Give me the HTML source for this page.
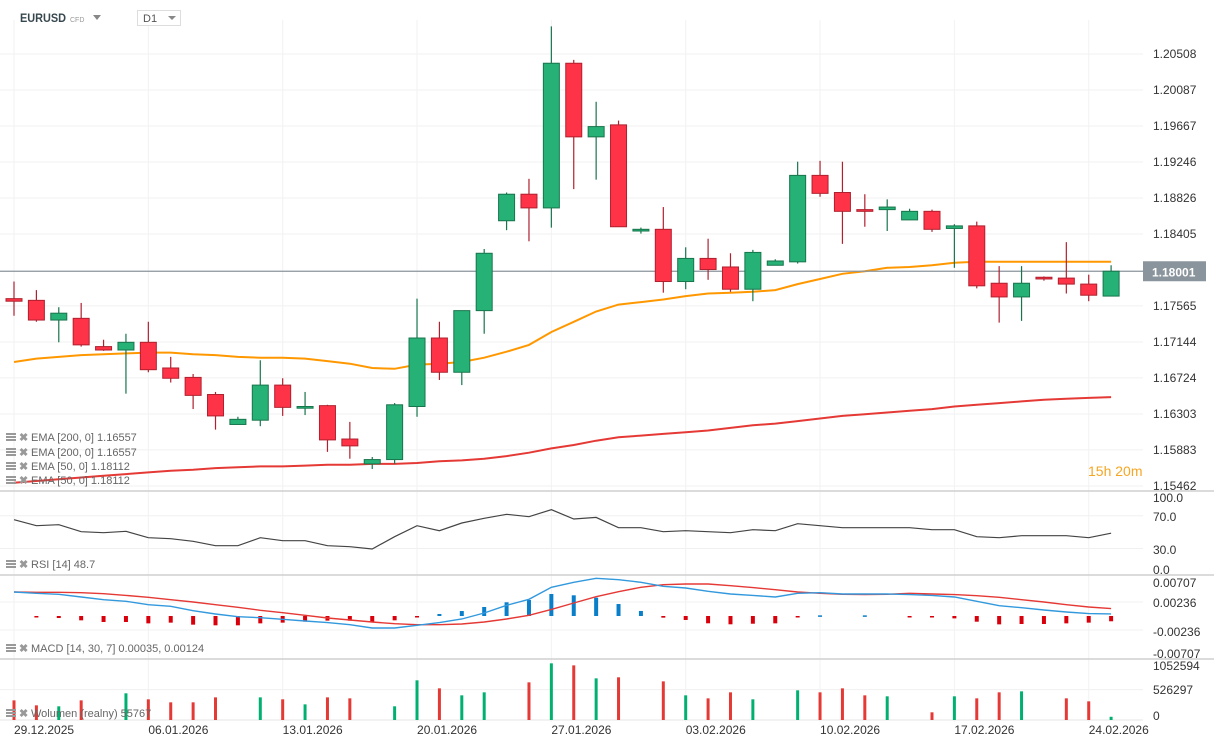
<!DOCTYPE html>
<html><head><meta charset="utf-8"><style>
body{margin:0;background:#fff;font-family:"Liberation Sans",sans-serif}
svg{display:block}
text{font-family:"Liberation Sans",sans-serif}
</style></head><body>
<svg id="c" width="1214" height="746" viewBox="0 0 1214 746"></svg>
<script>
const dates=["29.12.2025","06.01.2026","13.01.2026","20.01.2026","27.01.2026","03.02.2026","10.02.2026","17.02.2026","24.02.2026"];
const opens=[1.1765,1.1763,1.1740,1.1742,1.1709,1.1705,1.1714,1.1684,1.1673,1.1653,1.1618,1.1623,1.1664,1.1637,1.1640,1.1601,1.1572,1.1577,1.1639,1.1719,1.1679,1.1751,1.1856,1.1887,1.1871,1.2040,1.1954,1.1968,1.1844,1.1846,1.1785,1.1812,1.1802,1.1776,1.1804,1.1808,1.1909,1.1889,1.1869,1.1869,1.1857,1.1867,1.1847,1.1850,1.1783,1.1767,1.1790,1.1789,1.1782,1.1768];
const highs=[1.1785,1.1775,1.1755,1.1760,1.1717,1.1724,1.1738,1.1697,1.1677,1.1656,1.1627,1.1693,1.1672,1.1656,1.1641,1.1621,1.1580,1.1643,1.1765,1.1738,1.1751,1.1823,1.1889,1.1905,1.2083,1.2044,1.1995,1.1973,1.1848,1.1872,1.1825,1.1835,1.1818,1.1822,1.1811,1.1925,1.1926,1.1925,1.1887,1.1881,1.1870,1.1869,1.1852,1.1855,1.1803,1.1803,1.1791,1.1831,1.1793,1.1804];
const lows=[1.1745,1.1738,1.1714,1.1709,1.1704,1.1654,1.1679,1.1667,1.1636,1.1612,1.1618,1.1616,1.1628,1.1629,1.1586,1.1578,1.1566,1.1572,1.1627,1.1670,1.1664,1.1724,1.1845,1.1832,1.1848,1.1893,1.1904,1.1849,1.1841,1.1772,1.1776,1.1787,1.1773,1.1762,1.1804,1.1806,1.1884,1.1829,1.1849,1.1844,1.1857,1.1843,1.1801,1.1777,1.1737,1.1739,1.1786,1.1771,1.1762,1.1768];
const closes=[1.1762,1.1740,1.1748,1.1711,1.1705,1.1714,1.1682,1.1672,1.1652,1.1628,1.1624,1.1664,1.1638,1.1639,1.1600,1.1593,1.1577,1.1641,1.1719,1.1679,1.1751,1.1818,1.1887,1.1871,1.2040,1.1954,1.1966,1.1849,1.1846,1.1785,1.1812,1.1799,1.1776,1.1819,1.1809,1.1909,1.1888,1.1867,1.1867,1.1872,1.1867,1.1846,1.1850,1.1780,1.1767,1.1783,1.1788,1.1782,1.1769,1.1797];
const ema50=[1.1691,1.1695,1.1697,1.1699,1.1700,1.1701,1.1702,1.1702,1.1700,1.1699,1.1697,1.1696,1.1696,1.1695,1.1692,1.1689,1.1684,1.1683,1.1688,1.1689,1.1691,1.1696,1.1703,1.1711,1.1726,1.1738,1.1750,1.1758,1.1761,1.1764,1.1768,1.1771,1.1772,1.1773,1.1775,1.1782,1.1788,1.1794,1.1797,1.1801,1.1802,1.1804,1.1807,1.1808,1.1808,1.1808,1.1808,1.1808,1.1808,1.1808];
const ema200=[1.1550,1.1552,1.1554,1.1556,1.1558,1.1560,1.1562,1.1564,1.1565,1.1567,1.1568,1.1569,1.1569,1.1570,1.1571,1.1571,1.1572,1.1572,1.1573,1.1575,1.1576,1.1578,1.1581,1.1585,1.1590,1.1594,1.1599,1.1603,1.1605,1.1607,1.1609,1.1611,1.1614,1.1617,1.1619,1.1622,1.1625,1.1628,1.1630,1.1632,1.1634,1.1636,1.1639,1.1641,1.1643,1.1645,1.1647,1.1648,1.1649,1.1650];
const rsi=[65.2,57.9,59.1,50.6,49.3,51.0,43.2,42.0,38.8,33.4,33.4,43.2,39.5,39.5,33.4,32.2,29.4,44.4,57.9,51.8,61.2,66.9,71.8,68.9,77.5,66.1,68.0,55.4,55.4,50.6,51.8,50.6,49.3,53.0,51.8,60.3,57.9,55.4,55.4,55.4,55.4,53.0,53.0,44.4,43.2,45.7,45.7,45.7,43.2,48.7];
const macd=[0.00405,0.00382,0.00365,0.00320,0.00275,0.00247,0.00191,0.00163,0.00090,0.00034,-0.00011,-0.00028,-0.00056,-0.00084,-0.00112,-0.00146,-0.00202,-0.00202,-0.00157,-0.00112,-0.00051,0.00051,0.00180,0.00281,0.00483,0.00568,0.00635,0.00612,0.00568,0.00500,0.00472,0.00416,0.00371,0.00348,0.00320,0.00382,0.00393,0.00371,0.00371,0.00371,0.00360,0.00348,0.00320,0.00247,0.00174,0.00140,0.00101,0.00067,0.00040,0.00035];
const signal=[0.00405,0.00399,0.00399,0.00393,0.00376,0.00348,0.00315,0.00275,0.00236,0.00191,0.00146,0.00096,0.00056,0.00011,-0.00034,-0.00067,-0.00101,-0.00129,-0.00146,-0.00146,-0.00135,-0.00101,-0.00051,0.00011,0.00112,0.00219,0.00326,0.00410,0.00483,0.00528,0.00539,0.00539,0.00511,0.00478,0.00444,0.00405,0.00382,0.00365,0.00360,0.00365,0.00382,0.00371,0.00360,0.00343,0.00315,0.00275,0.00236,0.00191,0.00152,0.00124];
const volume=[340000,254000,237000,340000,0,462000,358000,306000,306000,392000,0,392000,358000,271000,392000,375000,0,237000,687000,548000,427000,479000,0,652000,981000,946000,721000,739000,0,669000,427000,375000,479000,358000,0,514000,479000,548000,427000,410000,0,133000,410000,375000,479000,496000,0,375000,323000,55767];
const priceTicks=[1.20508,1.20087,1.19667,1.19246,1.18826,1.18405,1.17985,1.17565,1.17144,1.16724,1.16303,1.15883,1.15462];
const rsiTicks=[100,70,30,0];
const macdTicks=[0.00707,0.00236,-0.00236,-0.00707];
const volTicks=[1052594,526297,0];

const svg=document.getElementById('c');const NS='http://www.w3.org/2000/svg';
function el(t,a,p){const e=document.createElementNS(NS,t);for(const k in a)e.setAttribute(k,a[k]);(p||svg).appendChild(e);return e;}
const X=i=>14+i*22.39;
const PY=p=>54+(1.20508-p)*8560;
const RY=v=>573-v*0.817;
const MY=v=>616-v*5932;
const VY=v=>720-v/526297*30.4;
const W=1143;
for(let k=0;k<priceTicks.length;k++){if(k===6)continue;const y=PY(priceTicks[k]);const g=el('line',{x1:0,x2:W,y1:y,y2:y,stroke:'#f0f0f0'});}
[70,30].forEach(v=>{el('line',{x1:0,x2:W,y1:RY(v),y2:RY(v),stroke:'#f0f0f0'});});
[0.00236,-0.00236].forEach(v=>{el('line',{x1:0,x2:W,y1:MY(v),y2:MY(v),stroke:'#f0f0f0'});});
el('line',{x1:0,x2:W,y1:VY(526297),y2:VY(526297),stroke:'#f0f0f0'});
el('line',{x1:0,x2:W,y1:720,y2:720,stroke:'#e6e6e6'});
for(let d=0;d<dates.length;d++){const x=X(d*6);el('line',{x1:x,x2:x,y1:20,y2:722,stroke:'#f2f2f2'});
const t=el('text',{x:x,y:734,'font-size':12,fill:'#333'});t.textContent=dates[d];
}
[491,575,659].forEach(y=>{const l=el('line',{x1:0,x2:1214,y1:y,y2:y,stroke:'#cfcfcf','stroke-width':1.5});});
priceTicks.forEach((p,k)=>{if(k===6)return;const t=el('text',{x:1153,y:PY(p)+4,'font-size':12,fill:'#333'});t.textContent=p.toFixed(5);});
rsiTicks.forEach((v,k)=>{const ys=[502,521,554,574];const t=el('text',{x:1153,y:ys[k],'font-size':12,fill:'#333'});t.textContent=v.toFixed(1);});
macdTicks.forEach((v,k)=>{const ys=[587,607,636,658];const t=el('text',{x:1153,y:ys[k],'font-size':12,fill:'#333'});t.textContent=v.toFixed(5);});
volTicks.forEach((v,k)=>{const ys=[670,694,720];const t=el('text',{x:1153,y:ys[k],'font-size':12,fill:'#333'});t.textContent=String(v);});
function line(arr,f,col,w,name){const d=arr.map((v,i)=>(i?'L':'M')+X(i).toFixed(1)+','+f(v).toFixed(1)).join('');const p=el('path',{d:d,fill:'none',stroke:col,'stroke-width':w});return p;}
line(ema200,PY,'#e53935',2,'ema-200-line');
line(ema50,PY,'#ff9800',2,'ema-50-line');
const cp=closes[closes.length-1];const cy=PY(cp);
el('line',{x1:0,x2:W,y1:cy,y2:cy,stroke:'#8a949c','stroke-width':1.2});
const cb=el('rect',{x:1143,y:cy-10,width:63,height:20,fill:'#8a949c'});
const ct=el('text',{x:1152,y:cy+5,'font-size':12,'font-weight':'bold',fill:'#fff'});ct.textContent='1.18001';
for(let i=0;i<opens.length;i++){const up=closes[i]>=opens[i];const fill=up?'#26b276':'#ff3347',st=up?'#17754c':'#b0202e';const x=X(i);
const g=el('g',{});
el('line',{x1:x,x2:x,y1:PY(highs[i]),y2:PY(lows[i]),stroke:st,'stroke-width':1.2},g);
const t=PY(Math.max(opens[i],closes[i])),b=PY(Math.min(opens[i],closes[i]));
el('rect',{x:x-8,y:t,width:16,height:Math.max(b-t,1.5),fill:fill,stroke:st,'stroke-width':1},g);}
line(rsi,RY,'#444',1.2,'rsi-line');
for(let i=0;i<macd.length;i++){const h=macd[i]-signal[i];if(Math.abs(h)<0.00008)continue;const y1=MY(0),y2=MY(h);
const r=el('rect',{x:X(i)-2,y:Math.min(y1,y2),width:4,height:Math.max(Math.abs(y2-y1),1.5),fill:h>0?'#0a7fc9':'#d9000b'});}
line(signal,MY,'#e53935',1.4,'macd-signal-line');
line(macd,MY,'#3399dd',1.4,'macd-line');
for(let i=0;i<volume.length;i++){if(!volume[i])continue;const up=closes[i]>=opens[i];const y=VY(volume[i]);
const r=el('rect',{x:X(i)-1.5,y:y,width:3,height:720-y,fill:up?'#00b070':'#e53935'});}
function icon(x,y){el('rect',{x:x,y:y-8,width:10,height:2,fill:'#999'});el('rect',{x:x,y:y-5,width:10,height:2,fill:'#999'});el('rect',{x:x,y:y-2,width:10,height:2,fill:'#999'});const t=el('text',{x:x+13,y:y,'font-size':11,fill:'#999','font-weight':'bold'});t.textContent='✖';}
const legs=[['EMA [200, 0] 1.16557',441],['EMA [200, 0] 1.16557',456],['EMA [50, 0] 1.18112',470],['EMA [50, 0] 1.18112',484],['RSI [14]  48.7',568],['MACD [14, 30, 7] 0.00035,  0.00124',652],['Wolumen  (realny)  55767',717]];
legs.forEach(l=>{icon(6,l[1]);const t=el('text',{x:31,y:l[1],'font-size':11,fill:'#666'});t.textContent=l[0];});
const cd=el('text',{x:1088,y:476,'font-size':14,fill:'#f5a623'});cd.textContent='15h 20m';
const s=el('text',{x:20,y:22,'font-size':12,'font-weight':'bold',fill:'#37474f',textLength:46,lengthAdjust:'spacingAndGlyphs'});s.textContent='EURUSD';
const c2=el('text',{x:70,y:22,'font-size':7,fill:'#999'});c2.textContent='CFD';
const tr=el('path',{d:'M93,15 L101,15 L97,20 Z',fill:'#888'});
const bx=el('rect',{x:137.5,y:10.5,width:43,height:15,fill:'#fff',stroke:'#ddd'});
const d1=el('text',{x:143,y:22,'font-size':11,fill:'#555'});d1.textContent='D1';
el('path',{d:'M168,16 L176,16 L172,20 Z',fill:'#888'});
</script>
</body></html>
